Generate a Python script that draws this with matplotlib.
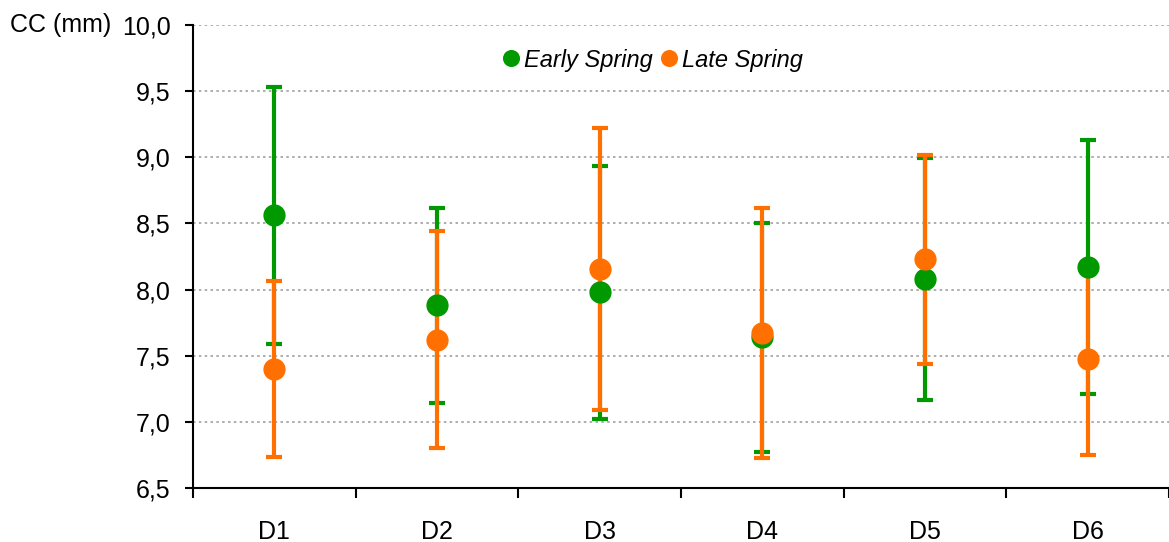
import numpy as np
import matplotlib
matplotlib.use("Agg")
import matplotlib.pyplot as plt
from matplotlib.ticker import MultipleLocator, FuncFormatter

plt.rcParams['font.family'] = ['Liberation Sans', 'DejaVu Sans']

categories = ['D1', 'D2', 'D3', 'D4', 'D5', 'D6']
early_mean = [8.56, 7.88, 7.98, 7.64, 8.08, 8.17]
early_err  = [0.975, 0.735, 0.955, 0.865, 0.915, 0.96]
late_mean  = [7.40, 7.62, 8.155, 7.67, 8.23, 7.475]
late_err   = [0.665, 0.82, 1.065, 0.945, 0.79, 0.725]

green = '#009900'
orange = '#FF7000'

fig = plt.figure(figsize=(11.69, 5.42), dpi=100)
ax = fig.add_axes([193/1169, 1 - 488/542, (1169 - 193)/1169, (488 - 25)/542])

x = np.arange(len(categories))

# error bars first, markers on top
ax.errorbar(x, early_mean, yerr=early_err, fmt='none', ecolor=green,
            elinewidth=3, capsize=5.5, capthick=3, zorder=3)
ax.errorbar(x, late_mean, yerr=late_err, fmt='none', ecolor=orange,
            elinewidth=3, capsize=5.5, capthick=3, zorder=4)
ax.plot(x, early_mean, 'o', color=green, markersize=15, zorder=5, label='Early Spring')
ax.plot(x, late_mean, 'o', color=orange, markersize=15, zorder=6, label='Late Spring')

ax.set_xlim(-0.5, len(categories) - 0.5)
ax.set_ylim(6.5, 10.0)
ax.yaxis.set_major_locator(MultipleLocator(0.5))
ax.yaxis.set_major_formatter(FuncFormatter(lambda v, p: ('%.1f' % v).replace('.', ',')))

ax.set_xticks(x)
ax.set_xticklabels(categories)
ax.set_xticks(np.arange(len(categories) + 1) - 0.5, minor=True)
ax.tick_params(axis='x', which='major', length=0, pad=23, labelsize=18)
ax.tick_params(axis='x', which='minor', length=7, width=1.5, direction='out')
ax.tick_params(axis='y', length=6, width=1.5, direction='out', labelsize=18, pad=10)

ax.grid(axis='y', color='#a0a0a0', linestyle=(0, (1.5, 2)), linewidth=1.2, zorder=0)
ax.set_axisbelow(True)
for s in ['top', 'right']:
    ax.spines[s].set_visible(False)
for s in ['left', 'bottom']:
    ax.spines[s].set_linewidth(1.5)
    ax.spines[s].set_color('black')

fig.text(10/1169, 1 - 25/542, 'CC (mm)', fontsize=18, ha='left', va='center')

leg = ax.legend(loc='upper center', bbox_to_anchor=(0.469, 0.995), ncol=2, frameon=False,
                handletextpad=0.05, columnspacing=0.2, handlelength=1.0, markerscale=0.75,
                prop={'style': 'italic', 'size': 17})

fig.savefig('out.png', dpi=100)
